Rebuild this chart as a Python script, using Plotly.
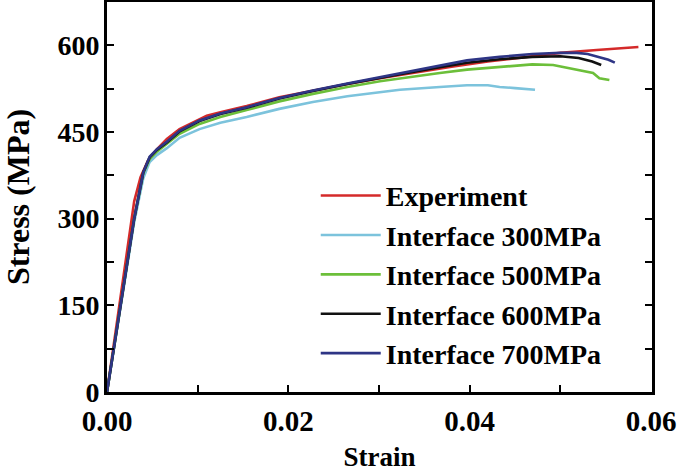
import plotly.graph_objects as go

# Experiment
exp_x = [0, 0.001, 0.002, 0.003, 0.0037, 0.0045, 0.0055, 0.0066, 0.008, 0.0102, 0.011, 0.0125, 0.0154,
         0.019, 0.0227, 0.0265, 0.0301, 0.034, 0.038, 0.042, 0.046, 0.05, 0.054, 0.0586]
exp_y = [0, 110, 220, 330, 372, 400, 420, 438, 455, 472, 478, 484, 495,
         510, 522, 533, 543, 553, 563, 572, 580, 587, 592, 597]

# Interface 300MPa
i300_x = [0, 0.001, 0.002, 0.003, 0.004, 0.0047, 0.0055, 0.0066, 0.008, 0.0102, 0.0125, 0.0154,
          0.019, 0.0227, 0.0265, 0.0301, 0.0323, 0.0367, 0.0397, 0.042, 0.0433, 0.045, 0.0472]
i300_y = [0, 98, 196, 294, 370, 398, 410, 422, 440, 455, 466, 476,
          490, 502, 512, 519, 523, 528, 531, 531, 528, 526, 523]

# Interface 500MPa
i500_x = [0, 0.001, 0.002, 0.003, 0.004, 0.0047, 0.0055, 0.0066, 0.008, 0.0102, 0.0125, 0.0154,
          0.019, 0.0227, 0.0265, 0.0301, 0.0323, 0.0367, 0.0397, 0.0433, 0.0469, 0.0492, 0.0514,
          0.0536, 0.0543, 0.0554]
i500_y = [0, 100, 200, 300, 378, 403, 416, 429, 447, 464, 476, 488,
          503, 516, 528, 538, 543, 552, 558, 563, 567, 566, 559,
          552, 543, 540]

# Interface 600MPa
i600_x = [0, 0.001, 0.002, 0.003, 0.004, 0.0047, 0.0055, 0.0066, 0.008, 0.0102, 0.0125, 0.0154,
          0.019, 0.0227, 0.0265, 0.0301, 0.0323, 0.0367, 0.0397, 0.0433, 0.0469, 0.05, 0.052,
          0.0535, 0.0545]
i600_y = [0, 100, 200, 300, 380, 406, 419, 432, 451, 469, 481, 492,
          508, 521, 533, 544, 550, 562, 570, 576, 580, 581, 578,
          572, 566]

# Interface 700MPa
i700_x = [0, 0.001, 0.002, 0.003, 0.004, 0.0047, 0.0055, 0.0066, 0.008, 0.0102, 0.0125, 0.0154,
          0.019, 0.0227, 0.0265, 0.0301, 0.0323, 0.0367, 0.0397, 0.0433, 0.0469, 0.05, 0.0518,
          0.053, 0.0543, 0.0553, 0.056]
i700_y = [0, 100, 200, 300, 380, 407, 420, 433, 452, 470, 482, 493,
          509, 522, 534, 545, 552, 565, 574, 580, 585, 587, 587,
          585, 580, 575, 570]

series = [
    ("Experiment", exp_x, exp_y, "#d42a2a"),
    ("Interface 300MPa", i300_x, i300_y, "#7cc3dc"),
    ("Interface 500MPa", i500_x, i500_y, "#6cbf3a"),
    ("Interface 600MPa", i600_x, i600_y, "#111111"),
    ("Interface 700MPa", i700_x, i700_y, "#2e3585"),
]

x_ticks = [0.0, 0.02, 0.04, 0.06]
x_ticklabels = ["0.00", "0.02", "0.04", "0.06"]
y_ticks = [0, 150, 300, 450, 600]
y_ticklabels = ["0", "150", "300", "450", "600"]

fig = go.Figure()
for name, xs, ys, col in series:
    fig.add_trace(go.Scatter(x=xs, y=ys, mode="lines", name=name,
                             line=dict(color=col, width=2.6)))

font_family = "Liberation Serif"
fig.update_layout(
    width=685, height=472,
    margin=dict(l=107, r=33, t=2, b=80, autoexpand=False),
    paper_bgcolor="white", plot_bgcolor="white",
    font=dict(family=font_family, color="black"),
    showlegend=True,
    legend=dict(x=0.383, y=0.567, xanchor="left", yanchor="top",
                bgcolor="rgba(0,0,0,0)", borderwidth=0,
                font=dict(family=font_family, size=28, color="black", weight="bold"),
                itemwidth=60, tracegroupgap=0),
    xaxis=dict(range=[0, 0.0601], tickmode="array", tickvals=x_ticks, ticktext=x_ticklabels,
               ticks="inside", ticklen=7, tickwidth=2, tickcolor="black",
               minor=dict(ticks="inside", ticklen=7, tickwidth=2, tickcolor="black", dtick=0.01),
               showline=True, linecolor="black", linewidth=3, mirror=True,
               showgrid=False, zeroline=False, automargin=False,
               tickfont=dict(family=font_family, size=29, weight="bold"),
               ticklabelstandoff=1,
               title=dict(text="Strain", font=dict(family=font_family, size=27, weight="bold"),
                          standoff=42)),
    yaxis=dict(range=[0, 675], tickmode="array", tickvals=y_ticks, ticktext=y_ticklabels,
               ticks="inside", ticklen=7, tickwidth=2, tickcolor="black",
               minor=dict(ticks="inside", ticklen=7, tickwidth=2, tickcolor="black", dtick=75),
               showline=True, linecolor="black", linewidth=3, mirror="ticks",
               showgrid=False, zeroline=False, automargin=False,
               tickfont=dict(family=font_family, size=28, weight="bold"),
               ticklabelstandoff=-1,
               title=dict(text="Stress (MPa)", font=dict(family=font_family, size=32, weight="bold"),
                          standoff=25)),
)

fig.write_html("out.html", config={"displayModeBar": False},
               post_script="document.body.style.margin='0';document.body.style.overflow='hidden';")
